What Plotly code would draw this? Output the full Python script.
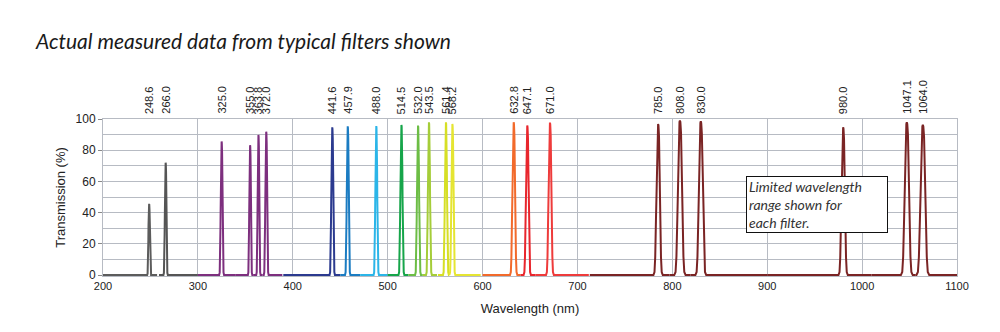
import plotly.graph_objects as go

# Filter centre wavelengths (nm) - also used as the peak labels
centers = [248.6, 266.0, 325.0, 355.0, 363.8, 372.0, 441.6, 457.9, 488.0,
           514.5, 532.0, 543.5, 561.4, 568.2, 632.8, 647.1, 671.0,
           785.0, 808.0, 830.0, 980.0, 1047.1, 1064.0]
# Peak transmission (%)
peaks = [45.6, 72.0, 85.6, 83.2, 89.8, 91.9, 94.7, 95.3, 95.5,
         96.2, 95.8, 97.9, 97.9, 96.8, 97.9, 95.8, 97.7,
         96.8, 99.1, 98.5, 94.7, 97.9, 96.2]
# Full width at half maximum (nm)
fwhm = [1.6, 1.8, 2.0, 1.8, 1.8, 2.0, 2.2, 2.2, 2.2,
        2.4, 2.4, 2.4, 2.4, 2.4, 3.0, 3.0, 3.2,
        3.8, 4.6, 4.4, 3.8, 4.8, 5.2]
# Wavelength range measured for each filter (nm)
range_start = [200, 259, 300, 340, 359, 368, 390, 450, 471,
               500, 522, 537, 553, 565, 600, 640, 656,
               713, 797, 819, 900, 1010, 1056]
range_end = [257, 300, 340, 359, 368, 389, 450, 471, 500,
             522, 537, 552, 565, 598, 640, 656, 712,
             797, 819, 900, 1010, 1056, 1100]

# Normalised passband shape: offset in units of FWHM, relative transmission
profile_offset = [-1.3, -1.0, -0.8, -0.6, -0.5, -0.4, -0.25, -0.1, 0.0,
                  0.1, 0.25, 0.4, 0.5, 0.6, 0.8, 1.0, 1.3]
profile_value = [0.0, 0.02, 0.12, 0.36, 0.5, 0.7, 0.92, 0.99, 1.0,
                 0.99, 0.92, 0.7, 0.5, 0.36, 0.12, 0.02, 0.0]

colors = ["#5c5c5c", "#555555", "#7d2f7e", "#7d2f7e", "#7d2f7e", "#7d2f7e",
          "#2b3a8f", "#1b7cc2", "#2bb5e8", "#16a54a", "#6cbd45", "#a5cd39",
          "#d6df25", "#e5e532", "#f26a2b", "#e8262d", "#ee3b3b",
          "#7a2424", "#7a2424", "#7a2424", "#7a2424", "#7a2424", "#7a2424"]

fig = go.Figure()

for c, p, w, s, e, col in zip(centers, peaks, fwhm, range_start, range_end, colors):
    xs = [s]
    ys = [0]
    for o, v in zip(profile_offset, profile_value):
        xs.append(c + o * w)
        ys.append(p * v)
    xs.append(e)
    ys.append(0)
    fig.add_trace(go.Scatter(x=xs, y=ys, mode="lines",
                             line=dict(color=col, width=2),
                             hoverinfo="skip", showlegend=False))

    # vertical wavelength label above the plot
    fig.add_annotation(x=c, xref="x", y=1, yref="paper", yshift=3,
                       text=f"{c:.1f}", showarrow=False, textangle=-90,
                       xanchor="center", yanchor="bottom",
                       font=dict(family="Liberation Sans, Arial", size=11,
                                 color="#222222"))

fig.add_annotation(x=0.753, y=0.637, xref="paper", yref="paper",
                   xanchor="left", yanchor="top", align="left",
                   text="Limited wavelength<br>range shown for<br>each filter.",
                   showarrow=False, bgcolor="white", bordercolor="#111111",
                   borderwidth=1, borderpad=2, width=136, height=51,
                   font=dict(family="Lato", size=14, color="#333333",
                             style="italic"))

grid = "#b7bbc3"
fig.update_layout(
    width=1000, height=332,
    margin=dict(l=103, r=43, t=119, b=56),
    paper_bgcolor="white", plot_bgcolor="white",
    title=dict(text="Actual measured data from typical filters shown",
               x=36 / 1000, xanchor="left", y=1 - 42 / 332, yanchor="middle",
               font=dict(family="Lato", size=21, color="#1a1a1a",
                         style="italic")),
    xaxis=dict(range=[200, 1100], dtick=100, showgrid=True, gridcolor=grid,
               gridwidth=1, showline=True, linecolor=grid, mirror=True,
               zeroline=False, ticks="", ticklen=0,
               tickfont=dict(family="Liberation Sans, Arial", size=11,
                             color="#222222"),
               title=dict(text="Wavelength (nm)", standoff=12,
                          font=dict(family="Liberation Sans, Arial", size=13,
                                    color="#222222"))),
    yaxis=dict(range=[-0.6, 100], tickvals=[0, 20, 40, 60, 80, 100],
               showgrid=True, gridcolor=grid, gridwidth=1,
               minor=dict(dtick=10, showgrid=True, gridcolor=grid),
               showline=True, linecolor=grid, mirror=True, zeroline=False,
               ticks="outside", ticklen=4, tickcolor="#888888",
               tickfont=dict(family="Liberation Sans, Arial", size=12,
                             color="#222222"),
               title=dict(text="Transmission (%)", standoff=7,
                          font=dict(family="Liberation Sans, Arial", size=13,
                                    color="#222222"))),
)

fig.write_html("out.html")
